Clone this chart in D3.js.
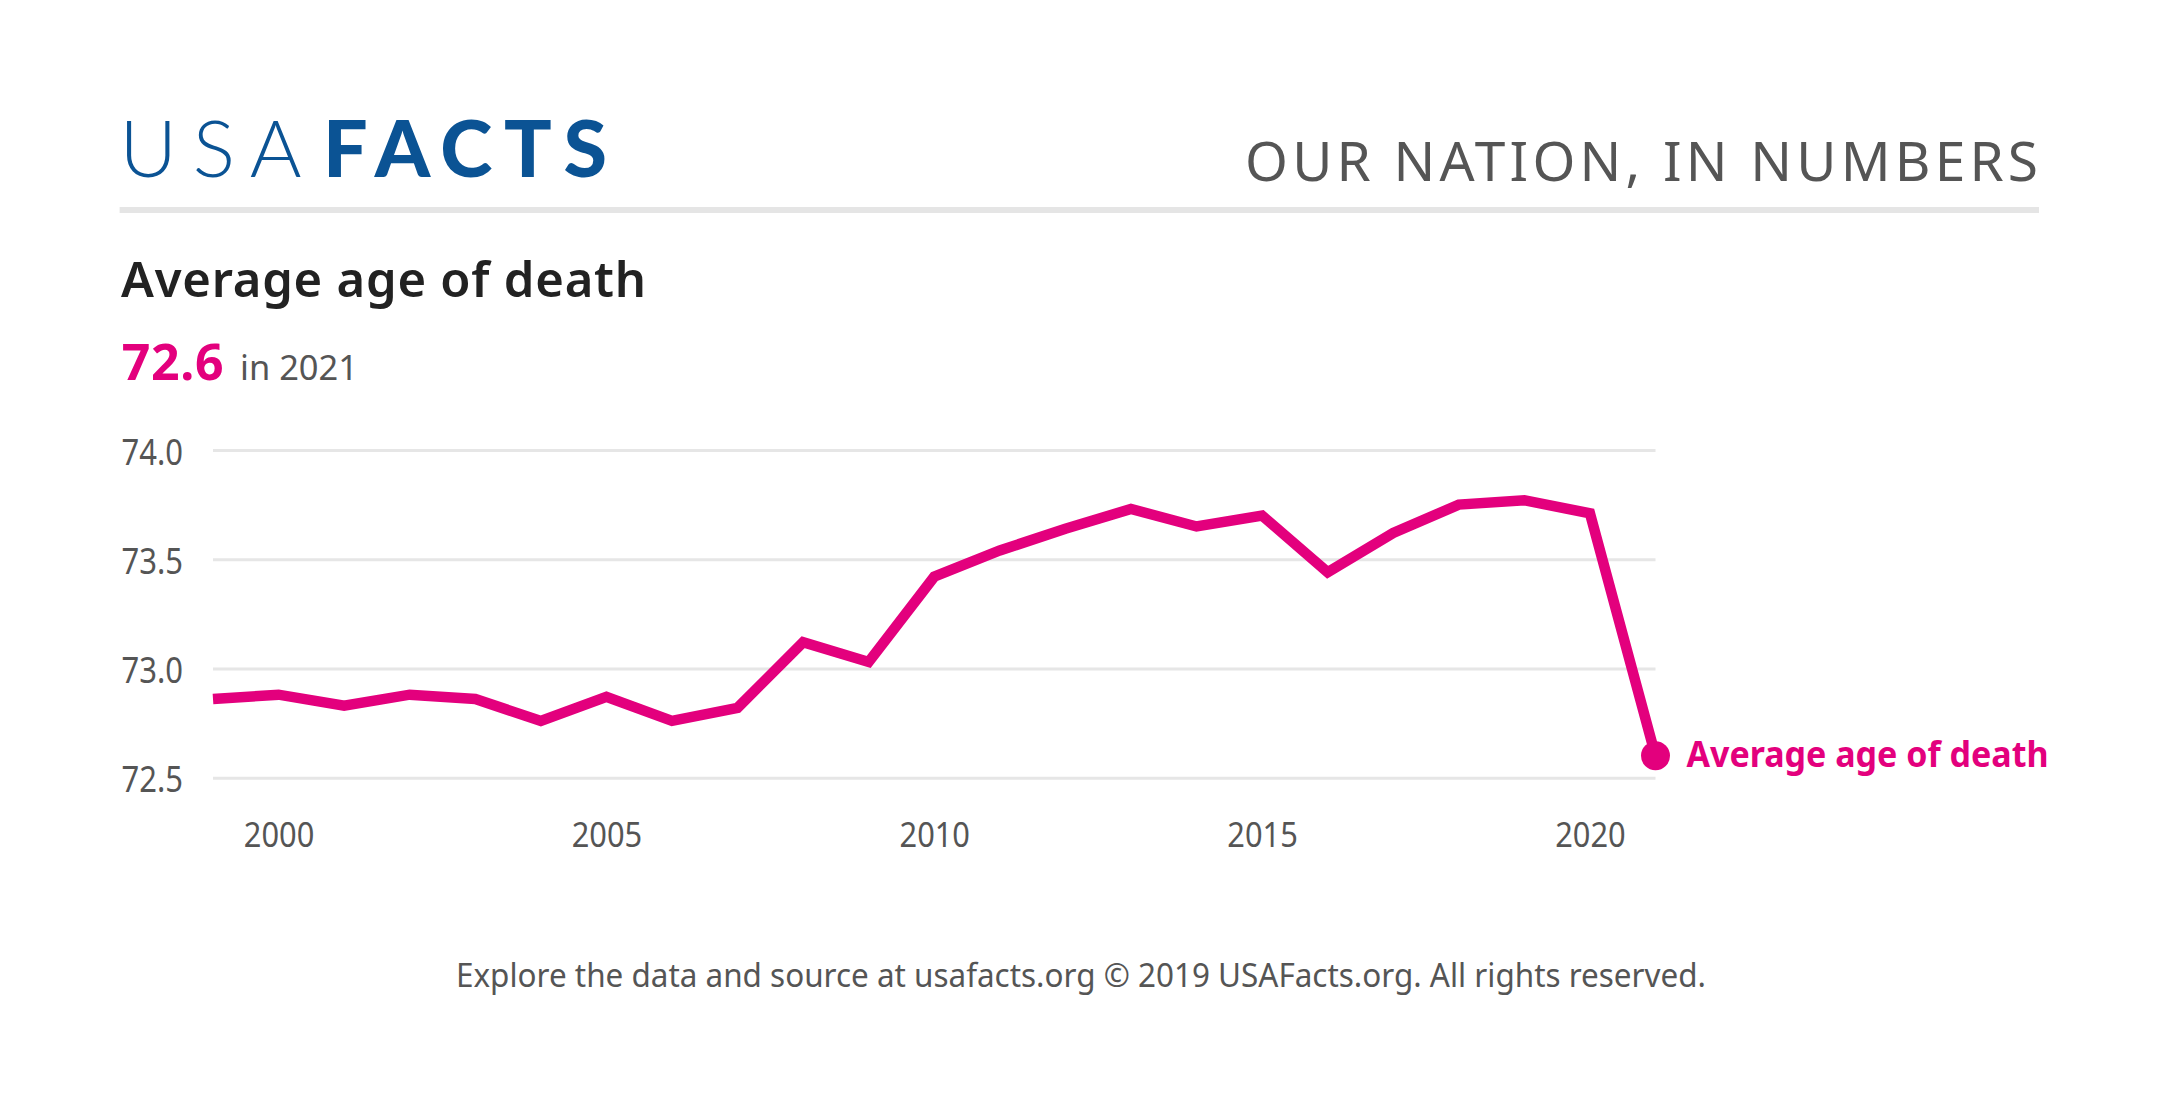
<!DOCTYPE html>
<html>
<head>
<meta charset="utf-8">
<script src="https://cdn.jsdelivr.net/npm/d3@7"></script>
<style>
  html, body { margin: 0; padding: 0; background: #ffffff; }
  svg { display: block; }
  text { font-family: "Noto Sans", "Open Sans", sans-serif; }
</style>
</head>
<body>
<svg id="chart" width="2160" height="1107"></svg>
<script>
// ---- data ----
const years = [1999, 2000, 2001, 2002, 2003, 2004, 2005, 2006, 2007, 2008, 2009, 2010,
               2011, 2012, 2013, 2014, 2015, 2016, 2017, 2018, 2019, 2020, 2021];
const avgAge = [72.86, 72.88, 72.83, 72.88, 72.86, 72.76, 72.87, 72.76, 72.82, 73.12, 73.03, 73.42,
                73.54, 73.64, 73.73, 73.65, 73.70, 73.44, 73.62, 73.75, 73.77, 73.71, 72.6];
const xTicks = [2000, 2005, 2010, 2015, 2020];
const yTicks = [72.5, 73.0, 73.5, 74.0];
const seriesName = "Average age of death";
const titleText = "Average age of death";
const headline = "72.6";
const headlineSuffix = "in 2021";
const tagline = "OUR NATION, IN NUMBERS";
const footerText = "Explore the data and source at usafacts.org \u00A9 2019 USAFacts.org. All rights reserved.";

// ---- styles ----
const PINK = "#e3007d";
const BLUE = "#0b5394";
const GRAY = "#555555";
const GRID = "#e6e6e6";

const svg = d3.select("#chart");
svg.append("rect").attr("width", 2160).attr("height", 1107).attr("fill", "#fff");

function fit(sel, w) {
  sel.each(function () {
    const n = this.getComputedTextLength();
    d3.select(this).attr("textLength", w)
      .attr("lengthAdjust", n < w ? "spacing" : "spacingAndGlyphs");
  });
  return sel;
}
function condense(sel, k) {
  sel.each(function () {
    const n = this.getComputedTextLength();
    d3.select(this).attr("textLength", n * k).attr("lengthAdjust", "spacingAndGlyphs");
  });
  return sel;
}

// ---- header ----
svg.append("text").attr("x", 119.6).attr("y", 177.3)
  .style("font-family", "Lato, 'Noto Sans', sans-serif")
  .attr("font-size", 79).attr("font-weight", 300).attr("fill", BLUE)
  .text("USA").call(fit, 182);
svg.append("text").attr("x", 323).attr("y", 177.3)
  .style("font-family", "Lato, 'Noto Sans', sans-serif")
  .attr("font-size", 79).attr("font-weight", 900).attr("fill", BLUE)
  .text("FACTS").call(fit, 284);

svg.append("text").attr("x", 1245).attr("y", 180.7)
  .attr("font-size", 55).attr("fill", GRAY)
  .text(tagline).call(fit, 793);

svg.append("rect").attr("x", 119.6).attr("y", 207).attr("width", 2039 - 119.6).attr("height", 6)
  .attr("fill", "#e5e5e5");

// ---- title ----
svg.append("text").attr("x", 121).attr("y", 296.7)
  .attr("font-size", 49).attr("font-weight", 600).attr("fill", "#222")
  .text(titleText).call(fit, 525);

svg.append("text").attr("x", 121.7).attr("y", 380)
  .attr("font-size", 50).attr("font-weight", 700).attr("fill", PINK)
  .text(headline).call(fit, 102);
svg.append("text").attr("x", 240).attr("y", 380)
  .attr("font-size", 35).attr("fill", GRAY)
  .text(headlineSuffix).call(fit, 118);

// ---- scales ----
const x = d3.scaleLinear().domain([1999, 2021]).range([213, 1655.5]);
const y = d3.scaleLinear().domain([72.5, 74]).range([777.7, 450]);

// y axis with gridlines
const yAxis = d3.axisLeft(y).tickValues(yTicks).tickFormat(d3.format(".1f"))
  .tickSizeInner(-(1655.5 - 213)).tickSizeOuter(0).tickPadding(30);
const gy = svg.append("g").attr("transform", "translate(213,0)").call(yAxis);
gy.select(".domain").remove();
gy.selectAll(".tick line").attr("stroke", GRID).attr("stroke-width", 3);
gy.selectAll(".tick text").attr("fill", GRAY).attr("font-size", 36)
  .attr("font-family", "'Noto Sans', sans-serif").attr("dy", 14)
  .call(condense, 0.86);

// x axis labels
const xAxis = d3.axisBottom(x).tickValues(xTicks).tickFormat(d3.format("d")).tickSize(0);
const gx = svg.append("g").attr("transform", "translate(0,846.7)").call(xAxis);
gx.select(".domain").remove();
gx.selectAll(".tick line").remove();
gx.selectAll(".tick text").attr("y", 0).attr("dy", 0).attr("fill", GRAY)
  .attr("font-size", 35).attr("font-family", "'Noto Sans', sans-serif")
  .call(condense, 0.88);

// ---- line ----
const data = years.map((yr, i) => ({ year: yr, value: avgAge[i] }));
const line = d3.line().x(d => x(d.year)).y(d => y(d.value));
svg.append("path").datum(data)
  .attr("d", line).attr("fill", "none").attr("stroke", PINK)
  .attr("stroke-width", 10.5).attr("stroke-linejoin", "miter").attr("stroke-linecap", "butt");

const last = data[data.length - 1];
svg.append("circle").attr("cx", x(last.year)).attr("cy", y(last.value)).attr("r", 14.5)
  .attr("fill", PINK);

svg.append("text").attr("x", x(last.year) + 31).attr("y", 766.7)
  .attr("font-size", 36).attr("font-weight", 700).attr("fill", PINK)
  .text(seriesName).call(fit, 362);

// ---- footer ----
svg.append("text").attr("x", 456).attr("y", 986.7)
  .attr("font-size", 32).attr("fill", GRAY)
  .text(footerText).call(fit, 1250);
</script>
</body>
</html>
